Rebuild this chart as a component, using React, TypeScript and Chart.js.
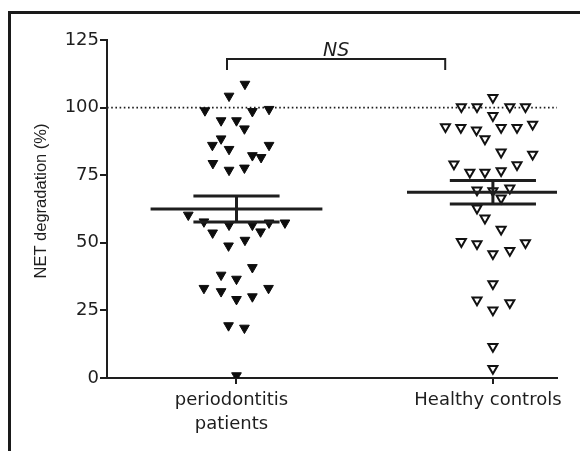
import React, { useEffect, useRef } from "react";
import { Chart, registerables } from "chart.js";

Chart.register(...registerables);

// ---- data ----
const categories: (string | string[])[] = [["periodontitis", "patients"], "Healthy controls"];
const yTickValues = [0, 25, 50, 75, 100, 125];
const yTitle = "NET degradation (%)";

// horizontal jitter (in category units) and NET degradation values, periodontitis patients
const perioOffsets = [
  0.033, -0.029, -0.123, 0.062, 0.127, -0.06, 0, 0.031, -0.06, -0.094, -0.029, 0.127, 0.062, 0.096,
  -0.092, -0.029, 0.031, -0.188, -0.127, -0.029, 0.062, 0.127, 0.189, -0.093, 0.094, -0.031, 0.033,
  0.062, -0.06, 0, -0.127, -0.06, 0, 0.062, 0.125, -0.031, 0.031, 0,
];
const perioValues = [
  108.7, 104.3, 98.9, 98.6, 99.4, 95.2, 95.2, 92.2, 88.5, 86.1, 84.6, 86.1, 82.3, 81.6,
  79.4, 76.9, 77.7, 60.3, 57.8, 56.6, 56.6, 57.4, 57.4, 53.7, 54.1, 48.9, 51.0,
  40.9, 38.1, 36.6, 33.2, 32.0, 29.1, 30.1, 33.2, 19.4, 18.5, 0.9,
];

// healthy controls
const healthyOffsets = [
  0, -0.123, -0.062, 0.066, 0.127, 0, -0.185, -0.125, -0.064, -0.031, 0.032, 0.094, 0.155,
  0.032, 0.155, -0.152, -0.09, -0.031, 0.032, 0.094, -0.062, 0, 0.066, 0.032, -0.062, -0.031, 0.032,
  -0.123, -0.062, 0, 0.066, 0.127, 0, -0.062, 0, 0.066, 0, 0,
];
const healthyValues = [
  103.7, 100.3, 100.3, 100.3, 100.3, 97.0, 92.9, 92.6, 91.7, 88.4, 92.6, 92.6, 93.8,
  83.5, 82.7, 79.1, 76.1, 76.1, 76.6, 78.8, 69.5, 69.2, 70.2, 66.5, 62.8, 59.1, 55.0,
  50.4, 49.6, 45.9, 47.1, 50.0, 34.8, 28.8, 25.1, 27.8, 11.6, 3.5,
];

const groupMeans = [62.5, 68.7];
const groupSems = [4.8, 4.35];
const referenceLevel = 100;
const bracketEnds = [-0.037, 0.814];
const bracketLevels = [118.0, 113.9]; // top, bottom of bracket legs
const bracketLabel = "NS";

// ---- style ----
const INK = "#1e1e1e";
const X_MIN = -0.505;
const X_MAX = 1.25;
const MEAN_HALF = 0.335;
const SEM_HALF = 0.168;

const decorations = {
  id: "decorations",
  beforeDraw(chart: any) {
    const ctx = chart.ctx as CanvasRenderingContext2D;
    ctx.save();
    ctx.fillStyle = "#ffffff";
    ctx.fillRect(0, 0, chart.width, chart.height);
    ctx.fillStyle = "#1a1a1a";
    ctx.fillRect(8, 11, chart.width - 8, 3);
    ctx.fillRect(8, 11, 3, chart.height - 11);
    ctx.restore();
  },
  afterDraw(chart: any) {
    const ctx = chart.ctx as CanvasRenderingContext2D;
    const { x, y } = chart.scales;
    const area = chart.chartArea;
    ctx.save();
    ctx.fillStyle = INK;
    ctx.font = 'italic 19px "DejaVu Sans", sans-serif';
    ctx.textAlign = "center";
    ctx.textBaseline = "alphabetic";
    ctx.fillText(
      bracketLabel,
      x.getPixelForValue((bracketEnds[0] + bracketEnds[1]) / 2),
      y.getPixelForValue(bracketLevels[0]) - 3
    );
    ctx.translate(41, (area.top + area.bottom) / 2 - 8);
    ctx.rotate(-Math.PI / 2);
    ctx.font = '16.5px "Liberation Sans", Arial, sans-serif';
    ctx.textBaseline = "middle";
    ctx.fillText(yTitle, 0, 0);
    ctx.restore();
  },
};

function lineSet(points: { x: number; y: number }[], width: number, dash: number[] = []) {
  return {
    data: points,
    showLine: true,
    borderColor: INK,
    backgroundColor: INK,
    borderWidth: width,
    borderDash: dash,
    pointRadius: 0,
    borderCapStyle: "butt" as const,
  };
}

export default function App() {
  const ref = useRef<HTMLCanvasElement>(null);

  useEffect(() => {
    document.body.style.margin = "0";
    const canvas = ref.current!;

    const summarySets: any[] = [];
    groupMeans.forEach((m, g) => {
      const s = groupSems[g];
      summarySets.push(lineSet([{ x: g - MEAN_HALF, y: m }, { x: g + MEAN_HALF, y: m }], 3));
      summarySets.push(lineSet([{ x: g - SEM_HALF, y: m + s }, { x: g + SEM_HALF, y: m + s }], 3));
      summarySets.push(lineSet([{ x: g - SEM_HALF, y: m - s }, { x: g + SEM_HALF, y: m - s }], 3));
      summarySets.push(lineSet([{ x: g, y: m - s }, { x: g, y: m + s }], 3));
    });

    const bracket = lineSet(
      [
        { x: bracketEnds[0], y: bracketLevels[1] },
        { x: bracketEnds[0], y: bracketLevels[0] },
        { x: bracketEnds[1], y: bracketLevels[0] },
        { x: bracketEnds[1], y: bracketLevels[1] },
      ],
      2
    );

    const refLine = lineSet(
      [
        { x: X_MIN, y: referenceLevel },
        { x: X_MAX, y: referenceLevel },
      ],
      1.6,
      [1.6, 2.6]
    );

    const perio = {
      data: perioValues.map((v, i) => ({ x: 0 + perioOffsets[i], y: v })),
      pointStyle: "triangle",
      rotation: 180,
      pointRadius: 5.6,
      backgroundColor: "#0d0d0d",
      borderColor: "#0d0d0d",
      borderWidth: 1,
    };
    const healthy = {
      data: healthyValues.map((v, i) => ({ x: 1 + healthyOffsets[i], y: v })),
      pointStyle: "triangle",
      rotation: 180,
      pointRadius: 5.2,
      backgroundColor: "#ffffff",
      borderColor: "#111111",
      borderWidth: 2,
    };

    const chart = new Chart(canvas, {
      type: "scatter",
      data: { datasets: [...summarySets, bracket, perio, healthy, refLine] as any },
      plugins: [decorations],
      options: {
        animation: false,
        responsive: false,
        devicePixelRatio: 1,
        events: [],
        layout: { padding: { left: 0, top: 40, right: 23, bottom: 0 } },
        plugins: { legend: { display: false }, tooltip: { enabled: false } },
        scales: {
          x: {
            type: "linear",
            min: X_MIN,
            max: X_MAX,
            afterBuildTicks: (s: any) => {
              s.ticks = categories.map((_, i) => ({ value: i }));
            },
            afterFit: (s: any) => {
              s.height = 73;
              s.paddingLeft = 0;
              s.paddingRight = 0;
            },
            ticks: {
              autoSkip: false,
              maxRotation: 0,
              color: INK,
              padding: 4,
              labelOffset: -5,
              font: { family: '"DejaVu Sans", sans-serif', size: 18, lineHeight: 1.33 },
              callback: (_v: any, i: number) => categories[i] as any,
            },
            grid: { drawOnChartArea: false, drawTicks: true, tickLength: 6, color: INK, lineWidth: 2 },
            border: { display: true, color: INK, width: 2 },
          },
          y: {
            type: "linear",
            min: 0,
            max: 125,
            afterBuildTicks: (s: any) => {
              s.ticks = yTickValues.map((v) => ({ value: v }));
            },
            afterFit: (s: any) => {
              s.width = 107;
              s.paddingTop = 0;
              s.paddingBottom = 0;
            },
            ticks: {
              color: INK,
              padding: 1,
              font: { family: '"DejaVu Sans", sans-serif', size: 18 },
            },
            grid: { drawOnChartArea: false, drawTicks: true, tickLength: 7, color: INK, lineWidth: 2 },
            border: { display: true, color: INK, width: 2 },
          },
        },
      } as any,
    });

    return () => chart.destroy();
  }, []);

  return (
    <div style={{ width: 580, height: 451, position: "relative" }}>
      <canvas ref={ref} width={580} height={451} style={{ display: "block" }} />
    </div>
  );
}
